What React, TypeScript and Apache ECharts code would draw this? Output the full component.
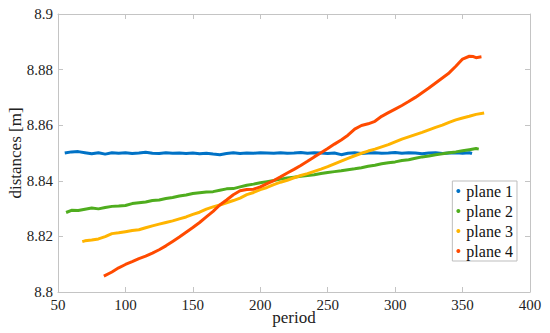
import React, { useEffect, useRef } from "react";
import * as echarts from "echarts";

const xTicks = [50, 100, 150, 200, 250, 300, 350, 400];

const p1x = [55, 60, 65, 70, 75, 80, 85, 90, 95, 100, 105, 110, 115, 120, 125, 130, 135, 140, 145, 150, 155, 160, 165, 170, 175, 180, 185, 190, 195, 200, 205, 210, 215, 220, 225, 230, 235, 240, 245, 250, 255, 260, 265, 270, 275, 280, 285, 290, 295, 300, 305, 310, 315, 320, 325, 330, 335, 340, 345, 350, 355, 357];
const p1y = [8.8500, 8.8504, 8.8505, 8.8501, 8.8497, 8.8501, 8.8496, 8.8501, 8.8499, 8.8501, 8.8498, 8.8500, 8.8503, 8.8499, 8.8498, 8.8501, 8.8499, 8.8500, 8.8498, 8.8500, 8.8497, 8.8499, 8.8496, 8.8494, 8.8498, 8.8501, 8.8498, 8.8500, 8.8499, 8.8501, 8.8500, 8.8499, 8.8501, 8.8499, 8.8500, 8.8502, 8.8499, 8.8501, 8.8500, 8.8498, 8.8500, 8.8494, 8.8499, 8.8501, 8.8498, 8.8500, 8.8501, 8.8499, 8.8500, 8.8502, 8.8499, 8.8501, 8.8500, 8.8497, 8.8500, 8.8501, 8.8498, 8.8500, 8.8501, 8.8499, 8.8501, 8.8498];

const p2x = [56, 60, 65, 70, 75, 80, 85, 90, 95, 100, 105, 110, 115, 120, 125, 130, 135, 140, 145, 150, 155, 160, 165, 170, 175, 180, 185, 190, 195, 200, 205, 210, 215, 220, 225, 230, 235, 240, 245, 250, 255, 260, 265, 270, 275, 280, 285, 290, 295, 300, 305, 310, 315, 320, 325, 330, 335, 340, 345, 350, 355, 360, 362];
const p2y = [8.8286, 8.8294, 8.8293, 8.8298, 8.8302, 8.8299, 8.8304, 8.8308, 8.8309, 8.8311, 8.8318, 8.8321, 8.8324, 8.8329, 8.8331, 8.8336, 8.8340, 8.8345, 8.8349, 8.8354, 8.8357, 8.8360, 8.8361, 8.8366, 8.8371, 8.8372, 8.8378, 8.8384, 8.8388, 8.8393, 8.8397, 8.8401, 8.8406, 8.8410, 8.8413, 8.8416, 8.8419, 8.8422, 8.8426, 8.8430, 8.8433, 8.8436, 8.8440, 8.8443, 8.8447, 8.8452, 8.8456, 8.8461, 8.8465, 8.8468, 8.8473, 8.8476, 8.8481, 8.8486, 8.8489, 8.8494, 8.8497, 8.8501, 8.8504, 8.8508, 8.8512, 8.8516, 8.8514];

const p3x = [68, 70, 75, 80, 85, 90, 95, 100, 105, 110, 115, 120, 125, 130, 135, 140, 145, 150, 155, 160, 165, 170, 175, 180, 185, 190, 195, 200, 205, 210, 215, 220, 225, 230, 235, 240, 245, 250, 255, 260, 265, 270, 275, 280, 285, 290, 295, 300, 305, 310, 315, 320, 325, 330, 335, 340, 345, 350, 355, 360, 366];
const p3y = [8.8181, 8.8184, 8.8187, 8.8191, 8.8199, 8.8210, 8.8213, 8.8217, 8.8221, 8.8224, 8.8231, 8.8238, 8.8244, 8.8250, 8.8256, 8.8263, 8.8270, 8.8279, 8.8287, 8.8298, 8.8306, 8.8313, 8.8321, 8.8329, 8.8338, 8.8350, 8.8358, 8.8368, 8.8376, 8.8386, 8.8395, 8.8402, 8.8411, 8.8419, 8.8426, 8.8434, 8.8442, 8.8451, 8.8461, 8.8471, 8.8481, 8.8490, 8.8499, 8.8507, 8.8514, 8.8522, 8.8530, 8.8540, 8.8550, 8.8558, 8.8566, 8.8574, 8.8583, 8.8592, 8.8600, 8.8610, 8.8619, 8.8626, 8.8632, 8.8639, 8.8644];

const p4x = [84, 90, 95, 100, 105, 110, 115, 120, 125, 130, 135, 140, 145, 150, 155, 160, 165, 170, 175, 180, 185, 190, 195, 200, 205, 210, 215, 220, 225, 230, 235, 240, 245, 250, 255, 260, 265, 270, 275, 280, 285, 290, 295, 300, 305, 310, 315, 320, 325, 330, 335, 340, 345, 350, 355, 358, 360, 364];
const p4y = [8.8057, 8.8072, 8.8087, 8.8099, 8.8109, 8.8120, 8.8129, 8.8140, 8.8152, 8.8166, 8.8182, 8.8198, 8.8215, 8.8232, 8.8250, 8.8270, 8.8290, 8.8313, 8.8331, 8.8350, 8.8364, 8.8369, 8.8370, 8.8378, 8.8390, 8.8401, 8.8414, 8.8428, 8.8441, 8.8455, 8.8470, 8.8486, 8.8501, 8.8516, 8.8532, 8.8547, 8.8564, 8.8586, 8.8599, 8.8605, 8.8614, 8.8632, 8.8645, 8.8658, 8.8671, 8.8685, 8.8700, 8.8717, 8.8734, 8.8752, 8.8770, 8.8788, 8.8812, 8.8838, 8.8848, 8.8847, 8.8843, 8.8846];

const names = ["plane 1", "plane 2", "plane 3", "plane 4"];
const colors = ["#0072c6", "#4fad1e", "#ffb400", "#ff4a00"];

const font = "Liberation Serif, Times New Roman, serif";
const axisColor = "#c4c4c4";

function pairs(xs: number[], ys: number[]) {
  return xs.map((x, i) => [x, ys[i]]);
}

export default function App() {
  const ref = useRef<HTMLDivElement>(null);
  useEffect(() => {
    if (!ref.current) return;
    const chart = echarts.init(ref.current, undefined, { renderer: "svg" });
    const data = [pairs(p1x, p1y), pairs(p2x, p2y), pairs(p3x, p3y), pairs(p4x, p4y)];
    const fmt = (v: number) => String(parseFloat(v.toFixed(3)));
    chart.setOption({
      animation: false,
      backgroundColor: "#ffffff",
      textStyle: { fontFamily: font },
      grid: { left: 58, right: 20, top: 14, bottom: 41, containLabel: false, outerBoundsMode: "none" },
      xAxis: [
        {
          type: "value",
          min: xTicks[0],
          max: xTicks[xTicks.length - 1],
          interval: 50,
          position: "bottom",
          name: "period",
          nameLocation: "middle",
          nameGap: 17,
          nameMoveOverlap: false,
          nameTextStyle: { fontFamily: font, fontSize: 17, color: "#222" },
          axisLine: { show: true, onZero: false, lineStyle: { color: axisColor } },
          axisTick: { show: true, inside: true, length: 5, lineStyle: { color: axisColor } },
          axisLabel: { fontFamily: font, fontSize: 15, color: "#222", margin: 5 },
          splitLine: { show: false },
        },
        {
          type: "value",
          min: xTicks[0],
          max: xTicks[xTicks.length - 1],
          interval: 50,
          position: "top",
          axisLine: { show: true, onZero: false, lineStyle: { color: axisColor } },
          axisTick: { show: true, inside: true, length: 5, lineStyle: { color: axisColor } },
          axisLabel: { show: false },
          splitLine: { show: false },
        },
      ],
      yAxis: [
        {
          type: "value",
          min: 8.8,
          max: 8.9,
          interval: 0.02,
          position: "left",
          name: "distances [m]",
          nameLocation: "middle",
          nameGap: 34,
          nameMoveOverlap: false,
          nameTextStyle: { fontFamily: font, fontSize: 17, color: "#222" },
          axisLine: { show: true, onZero: false, lineStyle: { color: axisColor } },
          axisTick: { show: true, inside: true, length: 5, lineStyle: { color: axisColor } },
          axisLabel: { fontFamily: font, fontSize: 15, color: "#222", margin: 5, formatter: fmt },
          splitLine: { show: false },
        },
        {
          type: "value",
          min: 8.8,
          max: 8.9,
          interval: 0.02,
          position: "right",
          axisLine: { show: true, onZero: false, lineStyle: { color: axisColor } },
          axisTick: { show: true, inside: true, length: 5, lineStyle: { color: axisColor } },
          axisLabel: { show: false },
          splitLine: { show: false },
        },
      ],
      legend: {
        data: names,
        orient: "vertical",
        right: 33,
        top: 181,
        icon: "circle",
        itemWidth: 4,
        itemHeight: 4,
        itemGap: 4,
        padding: [2, 4, 2, 4],
        borderColor: "#bdbdbd",
        borderWidth: 1,
        backgroundColor: "#ffffff",
        textStyle: { fontFamily: font, fontSize: 16, color: "#111", padding: [0, 0, 0, 1] },
      },
      series: names.map((n, i) => ({
        name: n,
        type: "line",
        data: data[i],
        showSymbol: false,
        smooth: false,
        lineStyle: { width: 3, color: colors[i] },
        itemStyle: { color: colors[i] },
      })),
    });
    return () => chart.dispose();
  }, []);
  return <div ref={ref} style={{ width: 550, height: 333, position: "absolute", left: 0, top: 0 }} />;
}
